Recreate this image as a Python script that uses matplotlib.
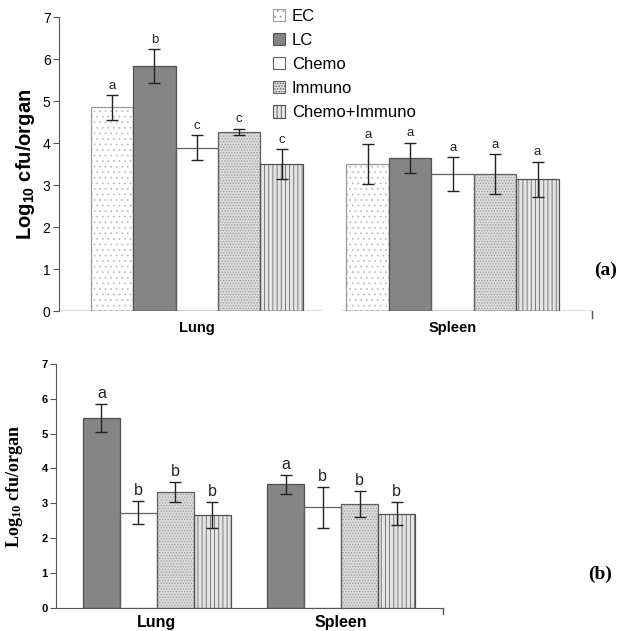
import numpy as np
import matplotlib.pyplot as plt
from matplotlib.patches import Patch

plt.rcParams['font.family'] = ['Liberation Sans', 'DejaVu Sans']
plt.rcParams['hatch.linewidth'] = 0.6

# data
organs = ['Lung', 'Spleen']
groups_a = ['EC', 'LC', 'Chemo', 'Immuno', 'Chemo+Immuno']
mean_a = [[4.85, 5.83, 3.89, 4.27, 3.50],
          [3.50, 3.65, 3.26, 3.26, 3.14]]
err_a = [[0.29, 0.40, 0.29, 0.07, 0.35],
         [0.48, 0.36, 0.40, 0.48, 0.42]]
let_a = [['a', 'b', 'c', 'c', 'c'],
         ['a', 'a', 'a', 'a', 'a']]

groups_b = ['LC', 'Chemo', 'Immuno', 'Chemo+Immuno']
mean_b = [[5.46, 2.73, 3.32, 2.67],
          [3.55, 2.88, 2.98, 2.70]]
err_b = [[0.40, 0.33, 0.29, 0.38],
         [0.27, 0.59, 0.37, 0.33]]
let_b = [['a', 'b', 'b', 'b'],
         ['a', 'b', 'b', 'b']]

styles = {
    'EC': dict(face='white', hatch='...', hcol='#c0c0c0', edge='#9a9a9a'),
    'LC': dict(face='#858585', hatch=None, hcol='#858585', edge='#505050'),
    'Chemo': dict(face='white', hatch=None, hcol='white', edge='#606060'),
    'Immuno': dict(face='#dadada', hatch='......', hcol='#a0a0a0', edge='#606060'),
    'Chemo+Immuno': dict(face='#e4e4e4', hatch='||||', hcol='#6a6a6a', edge='#505050'),
}


def draw_panel(ax, groups, means, errs, letters, width, lfs):
    n = len(groups)
    x = np.arange(len(organs))
    for j, g in enumerate(groups):
        st = styles[g]
        pos = x + (j - (n - 1) / 2) * width
        vals = [means[i][j] for i in range(len(organs))]
        ee = [errs[i][j] for i in range(len(organs))]
        ax.bar(pos, vals, width, color=st['face'], hatch=st['hatch'],
               edgecolor=st['hcol'], linewidth=0, zorder=2)
        ax.bar(pos, vals, width, fill=False, edgecolor=st['edge'],
               linewidth=0.9, zorder=3)
        ax.errorbar(pos, vals, yerr=ee, fmt='none', ecolor='#222222',
                    elinewidth=1.0, capsize=4, capthick=1.0, zorder=4)
        for i in range(len(organs)):
            ax.text(pos[i], vals[i] + ee[i] + 0.08, letters[i][j],
                    ha='center', va='bottom', fontsize=lfs, color='#222222')
    ax.set_xticks(x)
    ax.set_ylim(0, 7)
    ax.set_yticks(range(8))
    for s in ['top', 'right']:
        ax.spines[s].set_visible(False)
    ax.spines['left'].set_color('#555555')
    ax.tick_params(axis='y', direction='out', length=4, color='#555555', pad=2)
    ax.tick_params(axis='x', length=0)
    # small downward tick at the right end of the baseline
    ax.plot([1, 1], [0, -0.025], color='#555555', lw=1.0, clip_on=False,
            transform=ax.transAxes)


fig = plt.figure(figsize=(6.26, 6.31), dpi=100)

# panel (a)
ax1 = fig.add_axes([0.094, 0.507, 0.851, 0.466])
draw_panel(ax1, groups_a, mean_a, err_a, let_a, 0.166, 9.5)
ax1.set_xlim(-0.539, 1.543)
ax1.spines['bottom'].set_visible(False)
ax1.axhline(0, xmin=0, xmax=0.493, color='#555555', lw=1.0, zorder=5)
ax1.axhline(0, xmin=0.531, xmax=1, color='#555555', lw=1.0, zorder=5)
ax1.set_xticklabels(organs, fontsize=10.5, fontweight='bold')
ax1.tick_params(axis='x', pad=7)
ax1.tick_params(axis='y', labelsize=10)
ax1.set_ylabel(r'Log$\mathdefault{_{10}}$ cfu/organ', fontsize=14.5,
               fontweight='bold', labelpad=4)

handles = [Patch(facecolor=styles[g]['face'], hatch=styles[g]['hatch'],
                 edgecolor=styles[g]['edge'], linewidth=0.8) for g in groups_a]
fig.legend(handles, groups_a, loc='upper left', bbox_to_anchor=(0.425, 0.997),
           frameon=False, fontsize=12, handlelength=0.75, handleheight=0.75,
           handletextpad=0.4, labelspacing=0.55, borderaxespad=0)

fig.text(0.968, 0.572, '(a)', fontsize=14, fontweight='bold',
         family='Liberation Serif', ha='center', va='center')

# panel (b)
ax2 = fig.add_axes([0.0895, 0.037, 0.618, 0.386])
draw_panel(ax2, groups_b, mean_b, err_b, let_b, 0.2, 11.5)
ax2.set_xlim(-0.546, 1.551)
ax2.spines['bottom'].set_color('#555555')
ax2.set_xticklabels(organs, fontsize=11.5, fontweight='bold')
ax2.tick_params(axis='x', pad=5)
ax2.tick_params(axis='y', labelsize=8)
for t in ax2.get_yticklabels():
    t.set_fontweight('bold')
ax2.set_ylabel(r'Log$\mathdefault{_{10}}$ cfu/organ', fontsize=13,
               fontweight='bold', family='Liberation Serif', labelpad=12)

fig.text(0.958, 0.09, '(b)', fontsize=14, fontweight='bold',
         family='Liberation Serif', ha='center', va='center')

fig.savefig('out.png', dpi=100)
